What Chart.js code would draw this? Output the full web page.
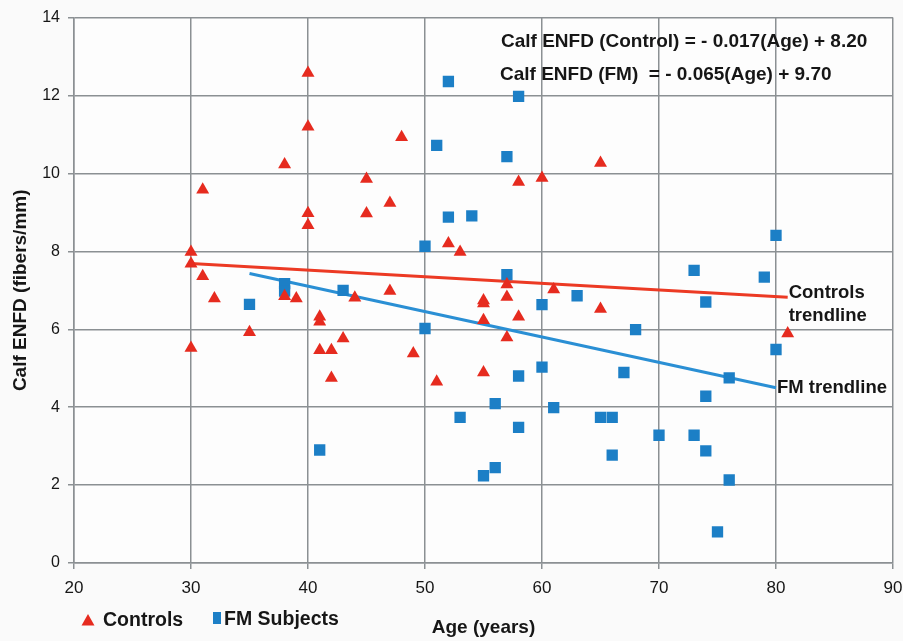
<!DOCTYPE html>
<html>
<head>
<meta charset="utf-8">
<script src="https://cdn.jsdelivr.net/npm/chart.js@4.4.1/dist/chart.umd.min.js"></script>
<style>
  html, body { margin: 0; padding: 0; background: #fafafa; }
  canvas { display: block; }
</style>
</head>
<body>
<canvas id="chart" width="903" height="641"></canvas>
<script>
// ── Data ───────────────────────────────────────────────────────────
const controlAges   = [30, 30, 30, 31, 31, 32, 35, 38, 38, 39, 40, 40, 40, 40, 41, 41, 41, 42, 42, 43, 44, 45, 45,
                       47, 47, 48, 49, 51, 52, 53, 55, 55, 55, 55, 57, 57, 57, 58, 58, 60, 61, 65, 65, 81];
const controlValues = [7.98, 7.68, 5.52, 9.58, 7.36, 6.79, 5.92, 10.23, 6.85, 6.79, 12.58, 11.2, 8.98, 8.67,
                       6.32, 6.19, 5.46, 5.46, 4.75, 5.76, 6.81, 9.86, 8.97, 9.24, 6.98, 10.93, 5.38, 4.65,
                       8.2, 7.98, 6.74, 6.66, 6.23, 4.89, 7.15, 6.83, 5.79, 9.78, 6.32, 9.88, 7.02, 10.27, 6.52, 5.89];

const fmAges   = [35, 38, 38, 41, 43, 50, 50, 51, 52, 52, 53, 54, 55, 56, 56, 57, 57, 58, 58, 58, 60, 60,
                  61, 63, 65, 66, 66, 67, 68, 70, 73, 73, 74, 74, 74, 75, 76, 76, 79, 80, 80];
const fmValues = [6.64, 7.17, 6.98, 2.9, 7.0, 8.13, 6.02, 10.72, 12.36, 8.88, 3.74, 8.91, 2.24, 4.09, 2.45,
                  10.43, 7.4, 11.98, 4.8, 3.48, 6.63, 5.03, 3.99, 6.86, 3.74, 3.74, 2.77, 4.89, 5.99, 3.28,
                  7.51, 3.28, 6.7, 4.28, 2.88, 0.8, 4.75, 2.13, 7.34, 8.41, 5.48];

// trendline end points
const controlTrendAges   = [30, 81];
const controlTrendValues = [7.69, 6.82];
const fmTrendAges   = [35, 80];
const fmTrendValues = [7.43, 4.50];

const equationLines = [
    'Calf ENFD (Control) = - 0.017(Age) + 8.20',
    'Calf ENFD (FM)  = - 0.065(Age) + 9.70'
];
const legendLabels = ['Controls', 'FM Subjects'];

const RED = '#e62b1f';
const BLUE = '#1c7fc6';
const TEXT = '#161616';
const GRID = '#8b9093';
const SANS = "'Liberation Sans', Arial, sans-serif";

const toPoints = (xs, ys) => xs.map((x, i) => ({ x, y: ys[i] }));

// ── Plugins: plot background, annotations, legend ─────────────────
const plotBackground = {
    id: 'plotBackground',
    beforeDraw(chart) {
        const { ctx, chartArea: a } = chart;
        ctx.save();
        ctx.fillStyle = '#fdfdfd';
        ctx.fillRect(a.left, a.top, a.right - a.left, a.bottom - a.top);
        ctx.restore();
    }
};

const annotations = {
    id: 'annotations',
    afterDraw(chart) {
        const { ctx, scales: { x, y } } = chart;
        ctx.save();
        ctx.fillStyle = TEXT;
        ctx.textBaseline = 'middle';
        ctx.textAlign = 'left';

        // equations, top right
        ctx.font = `bold 19px ${SANS}`;
        ctx.fillText(equationLines[0], 501, 42);
        ctx.fillText(equationLines[1], 500, 75);

        // trendline labels next to the line ends
        ctx.font = `bold 18.5px ${SANS}`;
        const cx = x.getPixelForValue(controlTrendAges[1]) + 1;
        const cy = y.getPixelForValue(controlTrendValues[1]);
        ctx.fillText('Controls', cx, cy - 4);
        ctx.fillText('trendline', cx, cy + 19);
        const fx = x.getPixelForValue(fmTrendAges[1]) + 1;
        const fy = y.getPixelForValue(fmTrendValues[1]);
        ctx.fillText('FM trendline', fx, fy);

        // legend, bottom left
        ctx.fillStyle = RED;
        ctx.beginPath();
        ctx.moveTo(88, 614); ctx.lineTo(94.5, 625.5); ctx.lineTo(81.5, 625.5); ctx.closePath();
        ctx.fill();
        ctx.fillStyle = BLUE;
        ctx.fillRect(213, 612, 8, 12);
        ctx.fillStyle = TEXT;
        ctx.font = `bold 19.5px ${SANS}`;
        ctx.fillText(legendLabels[0], 103, 621);
        ctx.fillText(legendLabels[1], 224, 620);
        ctx.restore();
    }
};

new Chart(document.getElementById('chart'), {
    type: 'scatter',
    data: {
        datasets: [
            {
                label: legendLabels[0],
                data: toPoints(controlAges, controlValues),
                pointStyle: 'triangle',
                pointRadius: 7.5,
                pointHoverRadius: 7.5,
                backgroundColor: RED,
                borderColor: RED,
                borderWidth: 0,
                order: 1,
            },
            {
                label: legendLabels[1],
                data: toPoints(fmAges, fmValues),
                pointStyle: 'rect',
                pointRadius: 8,
                pointHoverRadius: 8,
                backgroundColor: BLUE,
                borderColor: BLUE,
                borderWidth: 0,
                order: 2,
            },
            {
                label: 'Controls trendline',
                type: 'line',
                data: toPoints(controlTrendAges, controlTrendValues),
                borderColor: '#ec3a24',
                borderWidth: 3,
                pointRadius: 0,
                fill: false,
                order: 3,
            },
            {
                label: 'FM trendline',
                type: 'line',
                data: toPoints(fmTrendAges, fmTrendValues),
                borderColor: '#2a8fd4',
                borderWidth: 3,
                pointRadius: 0,
                fill: false,
                order: 4,
            }
        ]
    },
    options: {
        responsive: false,
        animation: false,
        layout: { padding: { left: 0, right: 10, top: 15, bottom: 0 } },
        plugins: {
            legend: { display: false },
            tooltip: { enabled: false },
        },
        scales: {
            x: {
                type: 'linear',
                min: 20,
                max: 90,
                afterFit: s => { s.height = 78; s.paddingLeft = 0; s.paddingRight = 0; },
                ticks: { stepSize: 10, color: TEXT, padding: 9, font: { family: SANS, size: 17 } },
                grid: { color: GRID, lineWidth: 1.5, tickLength: 6, tickColor: GRID },
                border: { color: GRID, width: 1.5 },
                title: {
                    display: true,
                    text: 'Age (years)',
                    color: TEXT,
                    font: { family: SANS, size: 19, weight: 'bold' },
                    padding: { top: 0, bottom: 2 },
                }
            },
            y: {
                min: 0,
                max: 14,
                afterFit: s => { s.width = 74; },
                ticks: { stepSize: 2, color: TEXT, padding: 8, font: { family: SANS, size: 16 } },
                grid: { color: GRID, lineWidth: 1.5, tickLength: 6, tickColor: GRID },
                border: { color: GRID, width: 1.5 },
                title: {
                    display: true,
                    text: 'Calf ENFD (fibers/mm)',
                    color: TEXT,
                    font: { family: SANS, size: 19, weight: 'bold' },
                    padding: { top: 9, bottom: 0 },
                }
            }
        }
    },
    plugins: [plotBackground, annotations]
});
</script>
</body>
</html>
